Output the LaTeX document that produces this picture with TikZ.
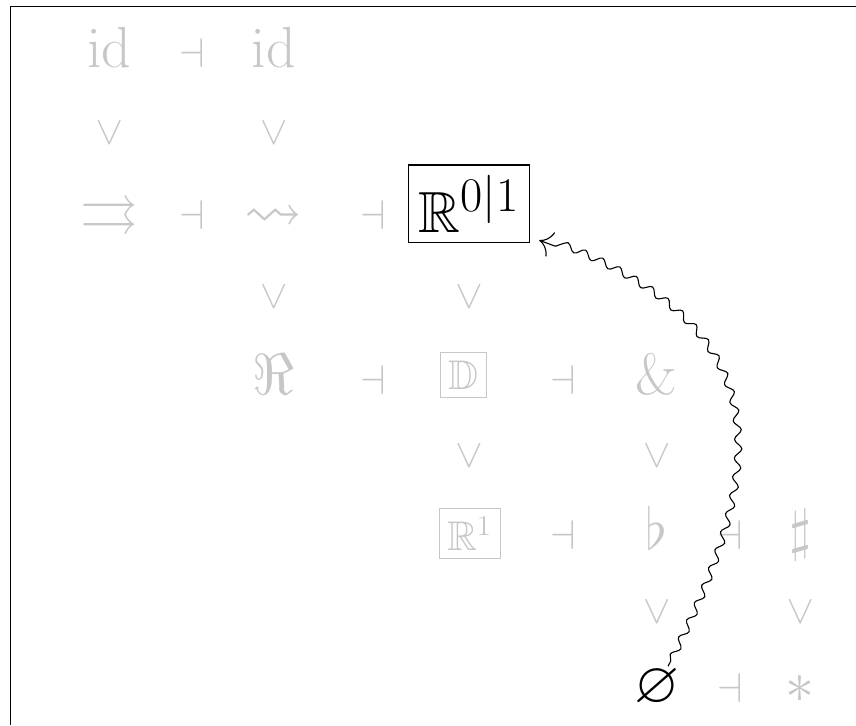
\documentclass[tikz,border=0pt]{standalone}
\usepackage{amssymb}
\usepackage{graphicx}
\usetikzlibrary{decorations.pathmorphing,arrows.meta}

\colorlet{faded}{black!22}
\tikzset{
  obj/.style={text=faded, inner sep=1pt, anchor=base, font=\Huge, scale=1.165, transform shape},
  rel/.style={text=faded, inner sep=0pt, anchor=base, font=\huge},
  lower/.style={text=faded, inner sep=0pt, font=\huge},
  gbox/.style={draw=faded, text=faded, line width=.5pt, inner sep=4pt, font=\huge},
  hbox/.style={draw, line width=.6pt, inner sep=4.3pt, font=\Huge, scale=1.165, transform shape},
  squig/.style={decorate, decoration={snake, amplitude=1.8pt, segment length=9.5pt, pre length=3pt, post length=5pt}},
}

\begin{document}
\begin{tikzpicture}
\useasboundingbox (0,0) rectangle (15.04,-12.74);
% frame edges
\draw[line width=.6pt] (15.04,-0.12) -- (0.18,-0.12) -- (0.18,-12.74);
% adjunction signs
\foreach \x/\y [count=\i] in {3.37/-1.18, 3.37/-4.04, 6.55/-4.04, 6.55/-6.94, 9.89/-6.94, 9.89/-9.66, 12.83/-9.66, 12.83/-12.35}
  \node[rel] (adj\i) at (\x,\y) {$\dashv$};
% order signs
\foreach \x/\y [count=\i] in {1.92/-2.34, 4.81/-2.34, 4.81/-5.22, 8.24/-5.22, 8.24/-8.00, 11.54/-8.00, 11.54/-10.74, 14.06/-10.74}
  \node[lower] (vee\i) at (\x,\y) {\rotatebox{90}{$<$}};
% modalities
\node[obj] (id1) at (1.92,-1.18) {$\mathrm{id}$};
\node[obj] (id2) at (4.81,-1.18) {$\mathrm{id}$};
\node[obj] (fer) at (1.92,-4.04) {$\rightrightarrows$};
\node[obj] (bos) at (4.81,-4.04) {$\rightsquigarrow$};
\node[hbox] (R01) at (8.24,-3.58) {$\mathbb{R}^{0|1}$};
\node[obj] (rh) at (4.81,-6.94) {$\Re$};
\node[gbox] (D) at (8.15,-6.59) {$\mathbb{D}$};
\node[obj] (et) at (11.54,-6.94) {\&};
\node[gbox] (R1) at (8.25,-9.37) {$\mathbb{R}^1$};
\node[obj] (flat) at (11.54,-9.66) {$\flat$};
\node[obj] (sharp) at (14.06,-9.66) {$\sharp$};
\node[obj, text=black] (empty) at (11.54,-12.35) {$\varnothing$};
\node[obj] (pt) at (14.06,-12.35) {$\ast$};
% squiggly map
\draw[squig, line width=.55pt, -{To[scale=2.2]}] (empty) to[out=63, in=-20, looseness=1.4] ([shift={(0.16,0.05)}]R01.south east);
\end{tikzpicture}
\end{document}
